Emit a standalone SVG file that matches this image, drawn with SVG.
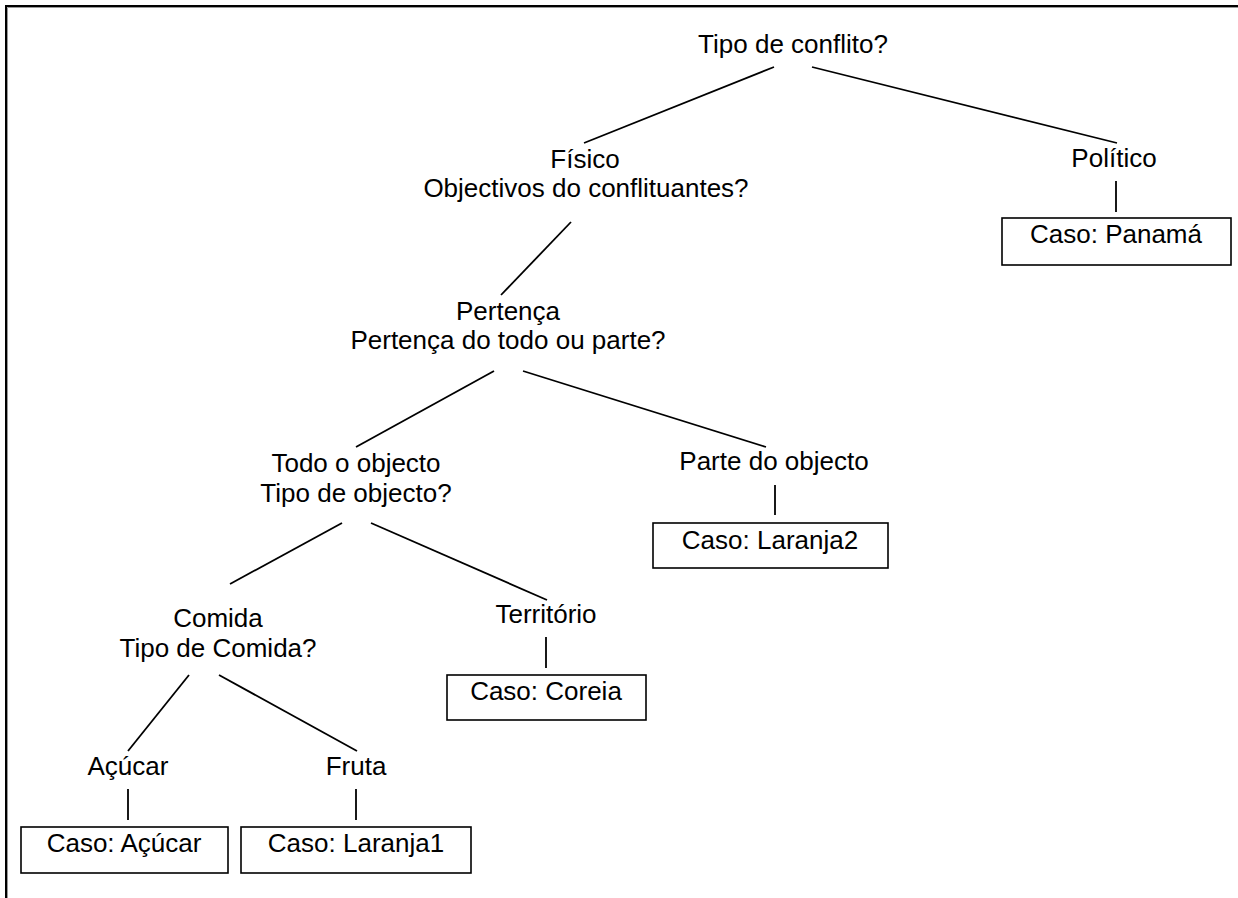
<svg xmlns="http://www.w3.org/2000/svg" width="1238" height="898" viewBox="0 0 1238 898">
  <style>
    text { font-family: "Liberation Sans", Arial, sans-serif; font-size: 26px; fill: #000; text-anchor: middle; }
    .edge { stroke: #000; stroke-width: 1.8; fill: none; }
    .box { stroke: #000; stroke-width: 1.6; fill: #fff; }
  </style>
  <rect x="0" y="0" width="1238" height="898" fill="#fff"/>

  <!-- page frame: top and left rules only -->
  <g id="frame">
    <path d="M6 898 V6 H1238" fill="none" stroke="#000" stroke-width="2"/>
    <path d="M7.5 898 V7.5 H1238" fill="none" stroke="#999" stroke-width="1"/>
  </g>

  <!-- connectors -->
  <g id="connectors">
    <line class="edge" x1="774" y1="67" x2="584" y2="143"/>
    <line class="edge" x1="812" y1="67" x2="1117" y2="143"/>
    <line class="edge" x1="1116" y1="181" x2="1116" y2="212"/>
    <line class="edge" x1="571" y1="222" x2="501" y2="295"/>
    <line class="edge" x1="494" y1="371" x2="356" y2="447"/>
    <line class="edge" x1="523" y1="371" x2="766" y2="447"/>
    <line class="edge" x1="775" y1="485" x2="775" y2="515"/>
    <line class="edge" x1="342" y1="523" x2="230" y2="584"/>
    <line class="edge" x1="371" y1="523" x2="547" y2="600"/>
    <line class="edge" x1="546" y1="637" x2="546" y2="668"/>
    <line class="edge" x1="189" y1="675" x2="128" y2="751"/>
    <line class="edge" x1="219" y1="675" x2="357" y2="751"/>
    <line class="edge" x1="128" y1="789" x2="128" y2="820"/>
    <line class="edge" x1="356" y1="789" x2="356" y2="820"/>
  </g>

  <!-- decision nodes -->
  <g id="n-tipo-conflito"><text x="793" y="53">Tipo de conflito?</text></g>
  <g id="n-fisico">
    <text x="585" y="168">Físico</text>
    <text x="586" y="197">Objectivos do conflituantes?</text>
  </g>
  <g id="n-politico"><text x="1114" y="167">Político</text></g>
  <g id="n-pertenca">
    <text x="508" y="320">Pertença</text>
    <text x="508" y="349">Pertença do todo ou parte?</text>
  </g>
  <g id="n-todo">
    <text x="356" y="472">Todo o objecto</text>
    <text x="356" y="502">Tipo de objecto?</text>
  </g>
  <g id="n-parte"><text x="774" y="470">Parte do objecto</text></g>
  <g id="n-comida">
    <text x="218" y="627">Comida</text>
    <text x="218" y="657">Tipo de Comida?</text>
  </g>
  <g id="n-territorio"><text x="546" y="623">Território</text></g>
  <g id="n-acucar"><text x="128" y="775">Açúcar</text></g>
  <g id="n-fruta"><text x="356" y="775">Fruta</text></g>

  <!-- case leaves -->
  <g id="c-panama">
    <rect class="box" x="1002" y="218" width="229" height="47"/>
    <text x="1116" y="243">Caso: Panamá</text>
  </g>
  <g id="c-laranja2">
    <rect class="box" x="653" y="523" width="235" height="45"/>
    <text x="770" y="549">Caso: Laranja2</text>
  </g>
  <g id="c-coreia">
    <rect class="box" x="447" y="675" width="199" height="45"/>
    <text x="546" y="700">Caso: Coreia</text>
  </g>
  <g id="c-acucar">
    <rect class="box" x="21" y="827" width="207" height="46"/>
    <text x="124" y="852">Caso: Açúcar</text>
  </g>
  <g id="c-laranja1">
    <rect class="box" x="241" y="827" width="230" height="46"/>
    <text x="356" y="852">Caso: Laranja1</text>
  </g>
</svg>
